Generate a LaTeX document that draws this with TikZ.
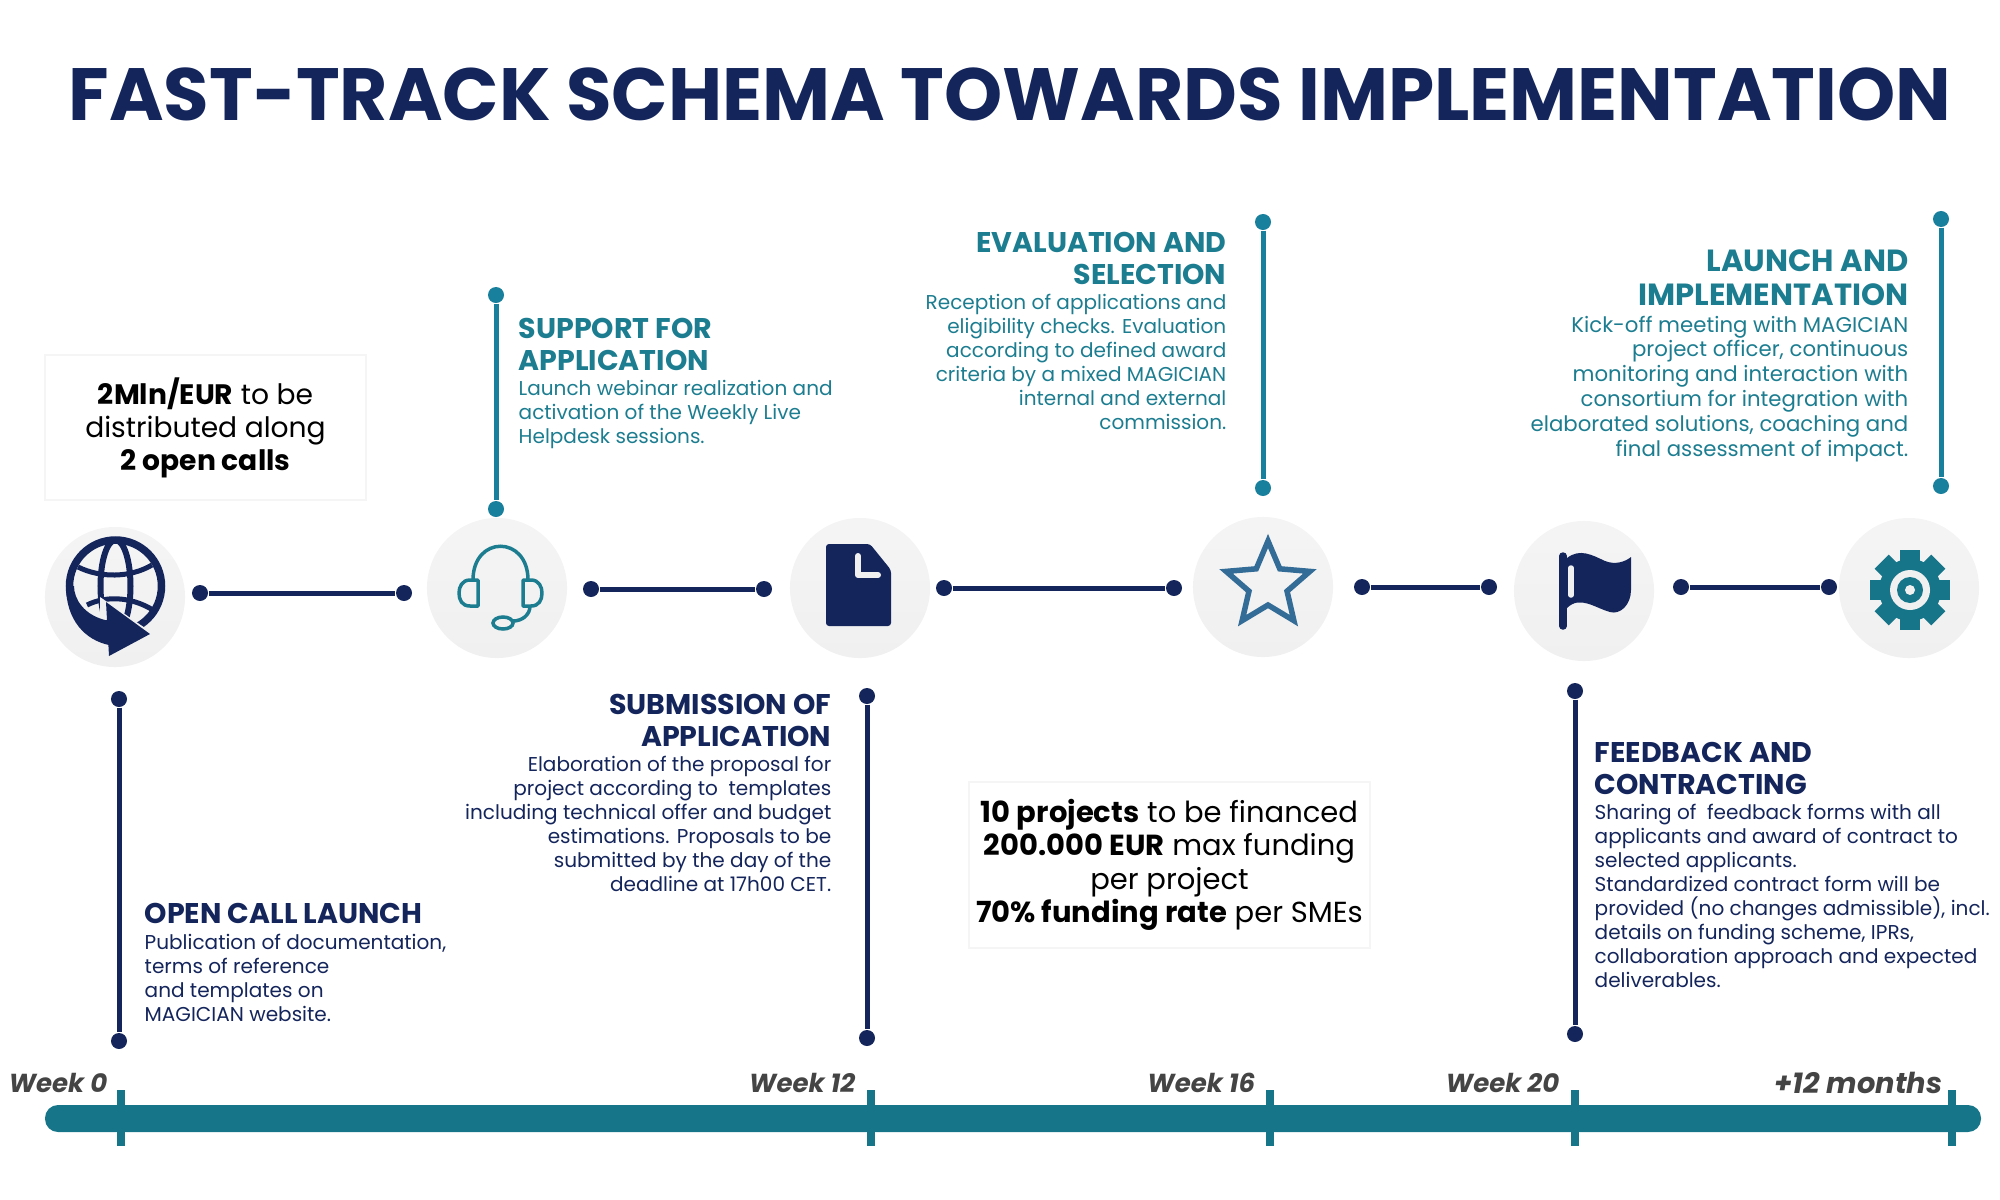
\documentclass[tikz,border=0pt]{standalone}
\usepackage{fontspec}
\setmainfont{Poppins}
\usetikzlibrary{arrows.meta, positioning, shapes.geometric}
\definecolor{navy}{HTML}{14255C}
\definecolor{tealbar}{HTML}{17758A}
\definecolor{tealtext}{HTML}{1C7D90}
\definecolor{tealdot}{HTML}{187F9C}
\definecolor{starblue}{HTML}{336C96}
\definecolor{iconbg}{HTML}{F0F0F0}
\definecolor{weekgrey}{HTML}{444444}

\begin{document}
\begin{tikzpicture}[
        x=0.01cm, y=-0.01cm,
        halo/.style={circle, minimum size=1.4cm, inner sep=0pt, top color=iconbg!70, bottom color=iconbg},
        navydot/.style={circle, fill=navy, minimum size=1.6mm, inner sep=0pt},
        tealdotn/.style={circle, fill=tealdot, minimum size=1.6mm, inner sep=0pt},
        navyline/.style={draw=navy, line width=0.5mm},
        tealline/.style={draw=tealdot, line width=0.5mm},
        tick/.style={draw=tealbar, line width=0.8mm},
        infobox/.style={draw=black!4, fill=white, align=center, inner sep=0pt, font=\fontsize{8}{9.35}\selectfont},
        weeklabel/.style={anchor=east, inner sep=0pt, text=weekgrey, font=\fontsize{7.4}{9}\selectfont\bfseries\itshape},
        headL/.style={align=left, inner sep=0pt, anchor=north west, font=\fontsize{8.1}{8.85}\selectfont\bfseries},
        headR/.style={align=right, inner sep=0pt, anchor=north east, font=\fontsize{8.1}{8.85}\selectfont\bfseries},
        bodyL/.style={align=left, inner sep=0pt, font=\fontsize{5.7}{6.82}\selectfont},
        bodyR/.style={align=right, inner sep=0pt, font=\fontsize{5.7}{6.82}\selectfont}
    ]

    \useasboundingbox (0,0) rectangle (2000,1200);

    \node[text=navy, inner sep=0pt, font=\fontsize{21.05}{24}\selectfont\bfseries] (title) at (1010,94) {FAST-TRACK SCHEMA TOWARDS IMPLEMENTATION};

    % icon circles
    \node[halo] (globe) at (115,597) {};
    \node[halo] (headset) at (497,588) {};
    \node[halo] (doc) at (860,588) {};
    \node[halo] (staricon) at (1263,587) {};
    \node[halo] (flag) at (1584,591) {};
    \node[halo] (gear) at (1909,588) {};

    % links between circles
    \node[navydot] (ga) at (200,593) {};
    \node[navydot] (gb) at (404,593) {};
    \node[navydot] (ha) at (591,589) {};
    \node[navydot] (hb) at (764,589) {};
    \node[navydot] (da) at (944,588) {};
    \node[navydot] (db) at (1174,588) {};
    \node[navydot] (sa) at (1362,587) {};
    \node[navydot] (sb) at (1489,587) {};
    \node[navydot] (fa) at (1681,587) {};
    \node[navydot] (fb) at (1829,587) {};
    \draw[navyline] (ga) -- (gb);
    \draw[navyline] (ha) -- (hb);
    \draw[navyline] (da) -- (db);
    \draw[navyline] (sa) -- (sb);
    \draw[navyline] (fa) -- (fb);

    % stems
    \node[tealdotn] (supA) at (496,295) {};
    \node[tealdotn] (supB) at (496,509) {};
    \node[tealdotn] (evaA) at (1263,222) {};
    \node[tealdotn] (evaB) at (1263,488) {};
    \node[tealdotn] (lauA) at (1941,219) {};
    \node[tealdotn] (lauB) at (1941,486) {};
    \node[navydot] (opeA) at (119,699) {};
    \node[navydot] (opeB) at (119,1041) {};
    \node[navydot] (subA) at (867,696) {};
    \node[navydot] (subB) at (867,1038) {};
    \node[navydot] (feeA) at (1575,691) {};
    \node[navydot] (feeB) at (1575,1034) {};
    \draw[tealline] (supA) -- (supB);
    \draw[tealline] (evaA) -- (evaB);
    \draw[tealline] (lauA) -- (lauB);
    \draw[navyline] (opeA) -- (opeB);
    \draw[navyline] (subA) -- (subB);
    \draw[navyline] (feeA) -- (feeB);

    % info boxes
    \node[infobox, minimum width=3.21cm, minimum height=1.45cm] (callbox) at (205.5,427.5) {\textbf{2Mln/EUR} to be\\distributed along\\\textbf{2 open calls}};
    \node[infobox, minimum width=4.01cm, minimum height=1.66cm, font=\fontsize{8.25}{9.5}\selectfont] (fundbox) at (1169.5,865) {\textbf{10 projects} to be financed\\\textbf{200.000 EUR} max funding\\per project\\\textbf{70\% funding rate} per SMEs};

    % text blocks
    \node[headL, text=tealtext] (supHead) at (518,318) {SUPPORT FOR\\APPLICATION};
    \node[bodyL, text=tealtext, below=0.85mm of supHead.south west, anchor=north west] (supBody) {Launch webinar realization and\\activation of the Weekly Live\\Helpdesk sessions.};

    \node[headR, text=tealtext] (evaHead) at (1227,232) {EVALUATION AND\\SELECTION};
    \node[bodyR, text=tealtext, below=0.85mm of evaHead.south east, anchor=north east] (evaBody) {Reception of applications and\\eligibility checks. Evaluation\\according to defined award\\criteria by a mixed MAGICIAN\\internal and external\\commission.};

    \node[headR, text=tealtext, font=\fontsize{8.7}{9.75}\selectfont\bfseries] (lauHead) at (1909,249) {LAUNCH AND\\IMPLEMENTATION};
    \node[bodyR, text=tealtext, font=\fontsize{6.05}{7.08}\selectfont, below=0.85mm of lauHead.south east, anchor=north east] (lauBody) {Kick-off meeting with MAGICIAN\\project officer, continuous\\monitoring and interaction with\\consortium for integration with\\elaborated solutions, coaching and\\final assessment of impact.};

    \node[headL, text=navy] (opeHead) at (144,903) {OPEN CALL LAUNCH};
    \node[bodyL, text=navy, below=0.85mm of opeHead.south west, anchor=north west] (opeBody) {Publication of documentation,\\terms of reference\\and templates on\\MAGICIAN website.};

    \node[headR, text=navy] (subHead) at (832,694) {SUBMISSION OF\\APPLICATION};
    \node[bodyR, text=navy, below=0.85mm of subHead.south east, anchor=north east] (subBody) {Elaboration of the proposal for\\project according to~ templates\\including technical offer and budget\\estimations. Proposals to be\\submitted by the day of the\\deadline at 17h00 CET.};

    \node[headL, text=navy] (feeHead) at (1594,742) {FEEDBACK AND\\CONTRACTING};
    \node[bodyL, text=navy, below=0.85mm of feeHead.south west, anchor=north west] (feeBody) {Sharing of~ feedback forms with all\\applicants and award of contract to\\selected applicants.\\Standardized contract form will be\\provided (no changes admissible), incl.\\details on funding scheme, IPRs,\\collaboration approach and expected\\deliverables.};

    % timeline
    \fill[tealbar, rounded corners=1.3mm] (45,1105) rectangle (1981,1132);
    \foreach \tx in {121,871,1270,1575,1952} {
        \draw[tick] (\tx,1090) -- (\tx,1146);
    }
    \node[weeklabel] (w0) at (108,1083) {Week 0};
    \node[weeklabel] (w12) at (856,1083) {Week 12};
    \node[weeklabel] (w16) at (1256,1083) {Week 16};
    \node[weeklabel] (w20) at (1560,1083) {Week 20};
    \node[weeklabel, font=\fontsize{8.2}{9}\selectfont\bfseries\itshape] (w52) at (1943,1083) {+12 months};

    % globe icon
    \draw[navy, line width=0.6mm] (115.5,586) ellipse (15 and 46);
    \draw[navy, line width=0.5mm] (78,567) .. controls (100,578) and (130,578) .. (152,565);
    \draw[navy, line width=0.5mm] (87,605) .. controls (105,596) and (130,596) .. (153,610);
    \draw[navy, line width=0.75mm] (115.5,586) circle (46);
    \fill[iconbg] (100,597) -- (148,630) .. controls (140,645) and (125,650) .. (100,650) -- cycle;
    \fill[navy] (66,586) .. controls (66,620) and (85,640) .. (109,645) -- (109,620) -- (105,620) .. controls (85,615) and (74,600) .. (74,586) -- cycle;
    \fill[navy] (106,602) -- (150,634) -- (109,656) -- cycle;

    % headset icon
    \draw[tealtext, line width=0.35mm] (473,580) .. controls (473,535) and (528,535) .. (528,580);
    \draw[tealtext, line width=0.35mm, line join=round] (478,580) -- (470,580) .. controls (462,580) and (459,587) .. (459,593) .. controls (459,600) and (462,606) .. (470,606) -- (478,606) -- cycle;
    \draw[tealtext, line width=0.35mm, line join=round] (523,580) -- (531,580) .. controls (539,580) and (542,587) .. (542,593) .. controls (542,600) and (539,606) .. (531,606) -- (523,606) -- cycle;
    \draw[tealtext, line width=0.35mm] (530,606) .. controls (530,615) and (522,621) .. (513,621);
    \draw[tealtext, line width=0.35mm] (503,623) ellipse (10 and 6);

    % document icon
    \fill[navy, rounded corners=0.3mm] (826,544) -- (870,544) -- (891,570) -- (891,626) -- (826,626) -- cycle;
    \draw[iconbg, line width=0.6mm, line cap=round, line join=round] (858,556) -- (858,575) -- (878,575);

    % star icon
    \node[star, star points=5, star point ratio=2.2, draw=starblue, line width=0.55mm, minimum size=0.88cm, inner sep=0pt] (starshape) at (1268,585) {};

    % flag icon
    \draw[navy, line width=0.75mm, line cap=round] (1563,556) -- (1563,626);
    \fill[navy] (1563,558) -- (1567,558) .. controls (1580,548) and (1592,555) .. (1605,561) .. controls (1615,565) and (1625,562) .. (1631,557) -- (1631,590) .. controls (1631,605) and (1620,615) .. (1610,612) .. controls (1595,608) and (1580,595) .. (1567,608) -- (1563,608) -- cycle;
    \draw[iconbg, line width=0.55mm, line cap=round] (1571,568) -- (1571,595);

    % gear icon
    \foreach \ang in {0,45,...,315} {
        \fill[tealbar, rotate around={\ang:(1910,590)}] (1900,550) rectangle (1920,575);
    }
    \fill[tealbar] (1910,590) circle (31);
    \fill[iconbg] (1910,590) circle (20);
    \fill[tealbar] (1910,590) circle (13);
    \fill[iconbg] (1910,590) circle (5);
\end{tikzpicture}
\end{document}
